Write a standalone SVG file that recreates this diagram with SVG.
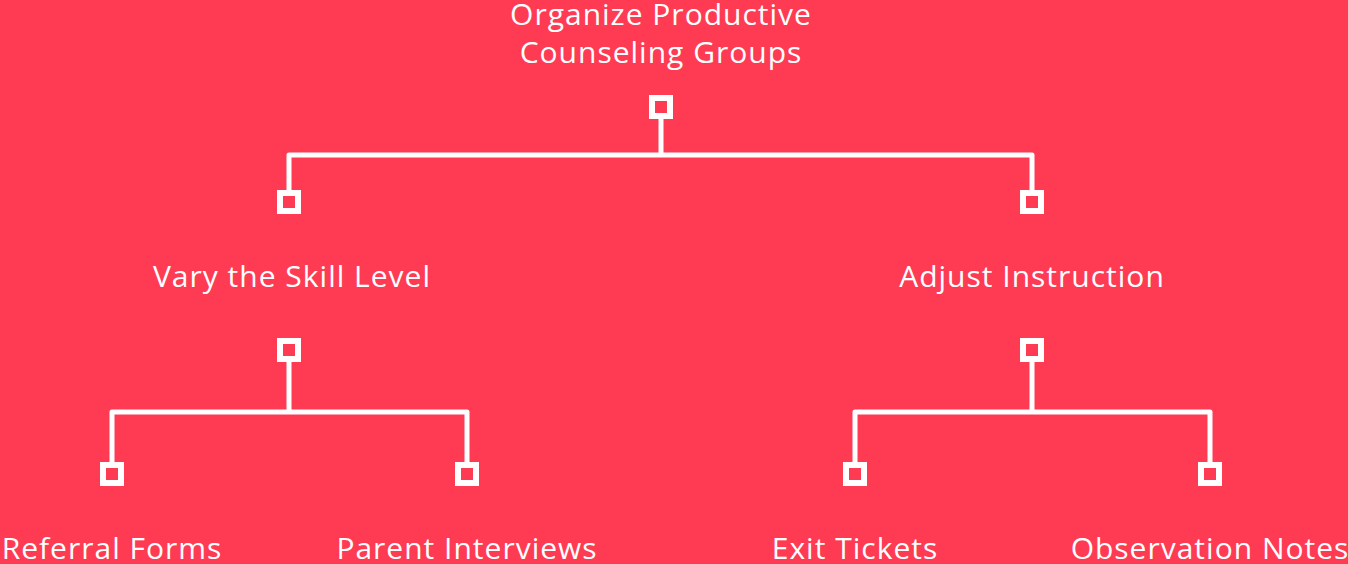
<svg xmlns="http://www.w3.org/2000/svg" width="1348" height="564" viewBox="0 0 1348 564">
<style>
.bg{fill:#ff3b54}
.conn{fill:none;stroke:#ffffff;stroke-width:5;stroke-linejoin:round;stroke-linecap:butt}
.sq{fill:#ff3b54;stroke:#ffffff;stroke-width:6}
.lbl{font-family:"Open Sans","Liberation Sans",sans-serif;font-size:30px;letter-spacing:1px;fill:#ffffff;text-anchor:middle}
</style>
<rect class="bg" x="0" y="0" width="1348" height="564"/>
<g id="connectors">
<path class="conn" d="M661 119 V155 M289 190 V155 H1032 V190"/>
<path class="conn" d="M289 362 V412 M112 462 V412 H467 V462"/>
<path class="conn" d="M1032 362 V412 M855 462 V412 H1210 V462"/>
</g>
<g id="root">
<text class="lbl" x="661" y="25">Organize Productive</text>
<text class="lbl" x="661" y="63">Counseling Groups</text>
<rect class="sq" x="652" y="98" width="18" height="18"/>
</g>
<g id="vary">
<rect class="sq" x="280" y="193" width="18" height="18"/>
<text class="lbl" x="292" y="287">Vary the Skill Level</text>
<rect class="sq" x="280" y="341" width="18" height="18"/>
</g>
<g id="adjust">
<rect class="sq" x="1023" y="193" width="18" height="18"/>
<text class="lbl" x="1032" y="287">Adjust Instruction</text>
<rect class="sq" x="1023" y="341" width="18" height="18"/>
</g>
<g id="referral">
<rect class="sq" x="103" y="465" width="18" height="18"/>
<text class="lbl" x="112" y="559">Referral Forms</text>
</g>
<g id="parent">
<rect class="sq" x="458" y="465" width="18" height="18"/>
<text class="lbl" x="467" y="559">Parent Interviews</text>
</g>
<g id="exit">
<rect class="sq" x="846" y="465" width="18" height="18"/>
<text class="lbl" x="855" y="559">Exit Tickets</text>
</g>
<g id="observation">
<rect class="sq" x="1201" y="465" width="18" height="18"/>
<text class="lbl" x="1210" y="559">Observation Notes</text>
</g>
</svg>
